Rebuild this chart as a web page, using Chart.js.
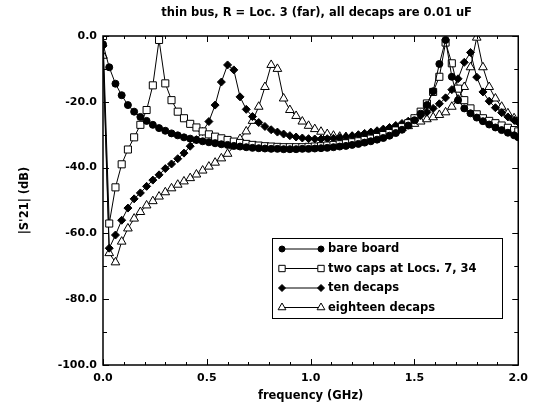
<!DOCTYPE html>
<html><head><meta charset="utf-8">
<script src="https://cdn.jsdelivr.net/npm/chart.js@4/dist/chart.umd.min.js"></script>
<style>html,body{margin:0;padding:0;background:#fff}#wrap{width:535px;height:408px;position:relative}</style>
</head><body><div id="wrap"><canvas id="c" width="535" height="408"></canvas></div>
<script>
const freqGHz = [0.00,0.03,0.06,0.09,0.12,0.15,0.18,0.21,0.24,0.27,0.30,0.33,0.36,0.39,0.42,0.45,0.48,0.51,0.54,0.57,0.60,0.63,0.66,0.69,0.72,0.75,0.78,0.81,0.84,0.87,0.90,0.93,0.96,0.99,1.02,1.05,1.08,1.11,1.14,1.17,1.20,1.23,1.26,1.29,1.32,1.35,1.38,1.41,1.44,1.47,1.50,1.53,1.56,1.59,1.62,1.65,1.68,1.71,1.74,1.77,1.80,1.83,1.86,1.89,1.92,1.95,1.98,2.00];
const bareBoard = [-2.5,-9.5,-14.5,-18,-21,-23,-24.6,-25.8,-27,-28,-28.8,-29.6,-30.2,-30.8,-31.2,-31.6,-32,-32.3,-32.6,-32.9,-33.1,-33.4,-33.6,-33.8,-34,-34.1,-34.2,-34.3,-34.3,-34.4,-34.4,-34.4,-34.3,-34.3,-34.2,-34.1,-34,-33.8,-33.6,-33.4,-33.1,-32.8,-32.4,-32,-31.5,-31,-30.3,-29.5,-28.5,-27.2,-25.6,-23.6,-21,-16.8,-8.5,-1.2,-12.4,-19.5,-22,-23.5,-24.8,-25.9,-26.9,-27.8,-28.6,-29.4,-30.2,-30.8];
const twoCaps = [0,-57,-46,-39,-34.5,-30.8,-27,-22.5,-15,-1.2,-14.4,-19.5,-23,-25,-26.7,-27.8,-29,-29.9,-30.6,-31.1,-31.6,-32.1,-32.5,-32.8,-33.1,-33.3,-33.5,-33.6,-33.7,-33.8,-33.8,-33.8,-33.8,-33.7,-33.6,-33.5,-33.3,-33.1,-32.9,-32.6,-32.3,-32,-31.6,-31.2,-30.7,-30.1,-29.5,-28.7,-27.7,-26.5,-25,-23,-20.5,-17,-12.4,-2,-8.3,-16,-19.5,-22,-23.8,-25,-25.8,-26.5,-27.2,-27.9,-28.6,-29];
const tenDecaps = [-3,-64.5,-60.5,-56,-52.3,-49.5,-47.7,-45.7,-43.8,-42.2,-40.3,-38.9,-37.3,-35.6,-33.5,-31.5,-29,-26,-21,-14,-8.8,-10.3,-18.5,-22.3,-24.5,-26.3,-27.5,-28.5,-29.2,-29.8,-30.3,-30.7,-31,-31.2,-31.3,-31.3,-31.2,-31.1,-30.9,-30.6,-30.3,-30,-29.6,-29.2,-28.8,-28.3,-27.8,-27.2,-26.6,-25.9,-25.1,-24.2,-23.2,-22,-20.6,-18.8,-16.3,-13,-8,-5,-12.5,-17,-19.8,-21.8,-23.3,-24.6,-25.6,-26.2];
const eighteenDecaps = [-6,-66,-68.8,-62.5,-58.5,-55.5,-53.5,-51.5,-50.2,-48.8,-47.5,-46.3,-45.2,-44.2,-43.2,-42.1,-40.9,-39.7,-38.5,-37.2,-35.8,-33.5,-31.3,-29,-25.8,-21.5,-15.5,-8.8,-10,-19,-22.5,-24.3,-26,-27.3,-28.3,-29.1,-29.8,-30.3,-30.6,-30.7,-30.7,-30.6,-30.4,-30.1,-29.8,-29.4,-29,-28.5,-28,-27.4,-26.7,-26,-25.3,-24.7,-24,-23.2,-21.5,-19.3,-15.5,-9.5,-0.5,-9.5,-15.5,-19,-21.5,-23.5,-25,-26];
const seriesNames = ["bare board","two caps at Locs. 7, 34","ten decaps","eighteen decaps"];
const yTickValues = [0,-20,-40,-60,-80,-100];
const xTickValues = [0,0.5,1,1.5,2];
const titleText = "thin bus, R = Loc. 3 (far), all decaps are 0.01 uF";
const yAxisTitle = "|S'21| (dB)";
const xAxisTitle = "frequency (GHz)";

const FONT = "'DejaVu Sans', 'Liberation Sans', Arial, sans-serif";
const toXY = ys => freqGHz.map((f, i) => ({x: f, y: ys[i]}));

const styles = [
  {pointStyle: 'circle', pointRadius: 3.5, pointBackgroundColor: '#000'},
  {pointStyle: 'rect', pointRadius: 5, pointBackgroundColor: '#fff'},
  {pointStyle: 'rectRot', pointRadius: 4, pointBackgroundColor: '#000'},
  {pointStyle: 'triangle', pointRadius: 5, pointBackgroundColor: '#fff'}
];
const seriesData = [bareBoard, twoCaps, tenDecaps, eighteenDecaps];

const datasets = seriesData.map((ys, i) => Object.assign({
  label: seriesNames[i],
  data: toXY(ys),
  showLine: true,
  borderColor: '#000',
  borderWidth: 1,
  pointBorderColor: '#000',
  pointBorderWidth: 1,
  tension: 0
}, styles[i]));

const framePlugin = {
  id: 'frame',
  afterDraw(chart) {
    const {ctx, chartArea: a, scales} = chart;
    const xs = scales.x, ys = scales.y;
    ctx.save();
    ctx.strokeStyle = '#000';
    ctx.lineWidth = 1.5;
    ctx.strokeRect(a.left, a.top, a.right - a.left, a.bottom - a.top);
    ctx.lineWidth = 1;
    ctx.beginPath();
    for (let v = 0; v >= -100; v -= 10) {
      const y = Math.round(ys.getPixelForValue(v)) + 0.5;
      const L = (v % 20 === 0) ? 6 : 4;
      ctx.moveTo(a.left, y); ctx.lineTo(a.left + L, y);
      ctx.moveTo(a.right, y); ctx.lineTo(a.right - L, y);
    }
    for (let k = 0; k <= 20; k++) {
      const x = Math.round(xs.getPixelForValue(k / 10)) + 0.5;
      const L = (k % 5 === 0) ? 6 : 3;
      ctx.moveTo(x, a.bottom); ctx.lineTo(x, a.bottom - L);
      ctx.moveTo(x, a.top); ctx.lineTo(x, a.top + L);
    }
    ctx.stroke();

    // title
    ctx.fillStyle = '#000';
    ctx.font = 'bold 11.5px ' + FONT;
    ctx.textAlign = 'center';
    ctx.textBaseline = 'middle';
    ctx.fillText(titleText, (a.left + a.right) / 2 + 6, 13);

    // legend
    const bx = 272, by = 238, bw = 230, bh = 80;
    ctx.fillStyle = '#fff';
    ctx.fillRect(bx, by, bw, bh);
    ctx.lineWidth = 1;
    ctx.strokeStyle = '#000';
    ctx.strokeRect(bx + 0.5, by + 0.5, bw, bh);
    chart.data.datasets.forEach((ds, i) => {
      const y = by + 11 + i * 19.5;
      const x1 = bx + 10, x2 = bx + 49;
      ctx.beginPath();
      ctx.moveTo(x1, y); ctx.lineTo(x2, y);
      ctx.lineWidth = 1; ctx.strokeStyle = '#000';
      ctx.stroke();
      const opts = {pointStyle: ds.pointStyle, radius: ds.pointRadius - 0.5, borderWidth: 1};
      ctx.fillStyle = ds.pointBackgroundColor; ctx.strokeStyle = '#000';
      Chart.helpers.drawPoint(ctx, opts, x1, y);
      ctx.fillStyle = ds.pointBackgroundColor; ctx.strokeStyle = '#000';
      Chart.helpers.drawPoint(ctx, opts, x2, y);
      ctx.fillStyle = '#000';
      ctx.font = 'bold 11.5px ' + FONT;
      ctx.textAlign = 'left';
      ctx.textBaseline = 'middle';
      ctx.fillText(ds.label, x2 + 7, y + 0.5);
    });
    ctx.restore();
  }
};

new Chart(document.getElementById('c'), {
  type: 'scatter',
  data: {datasets},
  plugins: [framePlugin],
  options: {
    responsive: false,
    animation: false,
    devicePixelRatio: 1,
    layout: {padding: {top: 36, right: 12, left: 0, bottom: 0}},
    plugins: {legend: {display: false}, title: {display: false}, tooltip: {enabled: false}},
    scales: {
      x: {
        type: 'linear', min: 0, max: 2,
        afterBuildTicks: s => { s.ticks = xTickValues.map(v => ({value: v})); },
        afterFit: s => { s.height = 43; },
        ticks: {callback: v => Number(v).toFixed(1), color: '#000', font: {family: FONT, size: 11, weight: 'bold'}, padding: 7, maxRotation: 0},
        grid: {display: false, drawTicks: false},
        border: {display: false},
        title: {display: true, text: xAxisTitle, color: '#000', font: {family: FONT, size: 11.5, weight: 'bold'}, padding: {top: 0, bottom: 5}}
      },
      y: {
        type: 'linear', min: -100, max: 0,
        afterBuildTicks: s => { s.ticks = yTickValues.map(v => ({value: v})); },
        afterFit: s => { s.width = 103; },
        ticks: {callback: v => Number(v).toFixed(1), color: '#000', font: {family: FONT, size: 11, weight: 'bold'}, padding: 6},
        grid: {display: false, drawTicks: false},
        border: {display: false},
        title: {display: true, text: yAxisTitle, color: '#000', font: {family: FONT, size: 11.5, weight: 'bold'}, padding: {top: 18, bottom: 0}}
      }
    }
  }
});
</script></body></html>
